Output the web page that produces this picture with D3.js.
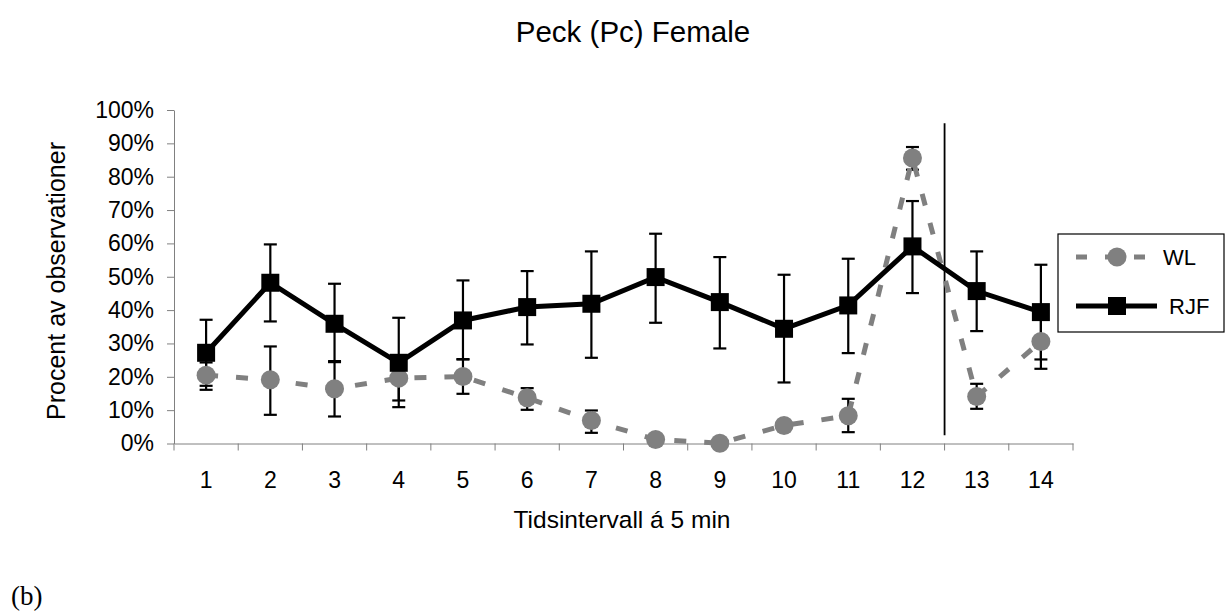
<!DOCTYPE html>
<html>
<head>
<meta charset="utf-8">
<script src="https://cdn.jsdelivr.net/npm/d3@7"></script>
<style>
  html, body { margin: 0; padding: 0; background: #fff; }
  svg { display: block; }
  text { font-family: "Liberation Sans", Arial, sans-serif; fill: #000; }
</style>
</head>
<body>
<svg id="chart" width="1226" height="612"></svg>
<script>
const categories = ["1","2","3","4","5","6","7","8","9","10","11","12","13","14"];
const yTicks = [0,0.1,0.2,0.3,0.4,0.5,0.6,0.7,0.8,0.9,1.0];

const wlValues = [20.5, 19.1, 16.4, 19.6, 20.1, 13.7, 6.9, 1.2, 0.1, 5.4, 8.3, 85.6, 14.1, 30.6];
const wlLow    = [16.1,  8.6,  8.1, 12.9, 14.9, 10.1, 3.2, 0.6, 0.0, 4.5, 3.4, 82.1, 10.4, 22.4];
const wlHigh   = [24.3, 29.1, 24.7, 26.3, 25.3, 16.6, 9.9, 1.8, 0.2, 6.3, 13.4, 88.9, 17.9, 38.8];

const rjfValues = [27.2, 48.2, 35.9, 24.2, 36.9, 40.9, 41.9, 49.9, 42.4, 34.4, 41.4, 59.1, 45.7, 39.4];
const rjfLow    = [17.3, 36.6, 24.4, 10.9, 25.2, 29.7, 25.7, 36.2, 28.5, 18.3, 27.1, 45.1, 33.7, 25.2];
const rjfHigh   = [37.1, 59.7, 47.9, 37.7, 48.9, 51.7, 57.6, 62.9, 55.9, 50.6, 55.4, 72.7, 57.6, 53.6];

const dividerAfter = "12";

const svg = d3.select("#chart");
const pLeft = 174, pRight = 1073, pTop = 110, pBottom = 443.5;

const x = d3.scaleBand().domain(categories).range([pLeft, pRight]).paddingInner(0).paddingOuter(0);
const y = d3.scaleLinear().domain([0, 1]).range([pBottom, pTop]);
const cx = c => x(c) + x.bandwidth() / 2;

// Title
svg.append("text").attr("x", 633).attr("y", 42).attr("text-anchor", "middle")
  .style("font-size", "29.5px").text("Peck (Pc) Female");

// Y axis
const yAxis = d3.axisLeft(y).tickValues(yTicks).tickFormat(d3.format(".0%")).tickSizeOuter(0).tickSizeInner(7).tickPadding(13);
const gy = svg.append("g").attr("transform", `translate(${pLeft},0)`).call(yAxis);
gy.select(".domain").attr("stroke", "#808080");
gy.selectAll(".tick line").attr("stroke", "#808080");
gy.selectAll(".tick text").style("font-size", "23px").attr("fill", "#000")
  .style("font-family", "Liberation Sans, Arial, sans-serif");

// X axis
const xAxis = d3.axisBottom(x).tickSize(0).tickPadding(28);
const gx = svg.append("g").attr("transform", `translate(0,${pBottom})`).call(xAxis);
gx.select(".domain").attr("stroke", "#808080");
gx.selectAll(".tick text").style("font-size", "23px").attr("fill", "#000")
  .style("font-family", "Liberation Sans, Arial, sans-serif");
const bounds = categories.map(c => x(c)).concat([pRight]);
svg.append("g").selectAll("line").data(bounds).join("line")
  .attr("x1", d => d).attr("x2", d => d)
  .attr("y1", pBottom).attr("y2", pBottom + 7)
  .attr("stroke", "#808080").attr("stroke-width", 1);

// Axis titles
svg.append("text").attr("x", 622).attr("y", 528).attr("text-anchor", "middle")
  .style("font-size", "24.5px").text("Tidsintervall á 5 min");
svg.append("text").attr("transform", `translate(65,281) rotate(-90)`)
  .attr("text-anchor", "middle").style("font-size", "25px").text("Procent av observationer");

// Divider line
const dx = x(categories[categories.indexOf(dividerAfter) + 1]);
svg.append("line").attr("x1", dx).attr("x2", dx).attr("y1", y(0.96)).attr("y2", y(0.025))
  .attr("stroke", "#000").attr("stroke-width", 1.8);

// Error bars
function errorBars(low, high) {
  const g = svg.append("g").attr("stroke", "#000").attr("stroke-width", 2.2).attr("fill", "none");
  categories.forEach((c, i) => {
    const xc = cx(c), y1 = y(low[i] / 100), y2 = y(high[i] / 100);
    g.append("line").attr("x1", xc).attr("x2", xc).attr("y1", y1).attr("y2", y2);
    g.append("line").attr("x1", xc - 6.5).attr("x2", xc + 6.5).attr("y1", y1).attr("y2", y1);
    g.append("line").attr("x1", xc - 6.5).attr("x2", xc + 6.5).attr("y1", y2).attr("y2", y2);
  });
}
errorBars(rjfLow, rjfHigh);
errorBars(wlLow, wlHigh);

const line = d3.line().x((d, i) => cx(categories[i])).y(d => y(d / 100));

// WL series
svg.append("path").datum(wlValues).attr("d", line).attr("fill", "none")
  .attr("stroke", "#808080").attr("stroke-width", 5).attr("stroke-dasharray", "12,18");
svg.append("g").selectAll("circle").data(wlValues).join("circle")
  .attr("cx", (d, i) => cx(categories[i])).attr("cy", d => y(d / 100)).attr("r", 9.5)
  .attr("fill", "#808080");

// RJF series
svg.append("path").datum(rjfValues).attr("d", line).attr("fill", "none")
  .attr("stroke", "#000").attr("stroke-width", 5).attr("stroke-linejoin", "miter");
svg.append("g").selectAll("rect").data(rjfValues).join("rect")
  .attr("x", (d, i) => cx(categories[i]) - 9).attr("y", d => y(d / 100) - 9)
  .attr("width", 18).attr("height", 18).attr("fill", "#000");

// Legend
const lg = svg.append("g");
lg.append("rect").attr("x", 1058).attr("y", 234).attr("width", 166).attr("height", 98)
  .attr("fill", "#fff").attr("stroke", "#000").attr("stroke-width", 1.2);
lg.append("line").attr("x1", 1076).attr("x2", 1150).attr("y1", 257).attr("y2", 257)
  .attr("stroke", "#808080").attr("stroke-width", 5).attr("stroke-dasharray", "11,18");
lg.append("circle").attr("cx", 1117).attr("cy", 257).attr("r", 9.5).attr("fill", "#808080");
lg.append("text").attr("x", 1163).attr("y", 265).style("font-size", "22px").text("WL");
lg.append("line").attr("x1", 1076).attr("x2", 1157).attr("y1", 306).attr("y2", 306)
  .attr("stroke", "#000").attr("stroke-width", 5);
lg.append("rect").attr("x", 1108).attr("y", 297).attr("width", 18).attr("height", 18).attr("fill", "#000");
lg.append("text").attr("x", 1169).attr("y", 314).style("font-size", "22px").text("RJF");

// Panel label
svg.append("text").attr("x", 11).attr("y", 605)
  .style("font-family", "Liberation Serif, 'Times New Roman', serif").style("font-size", "27px").text("(b)");
</script>
</body>
</html>
